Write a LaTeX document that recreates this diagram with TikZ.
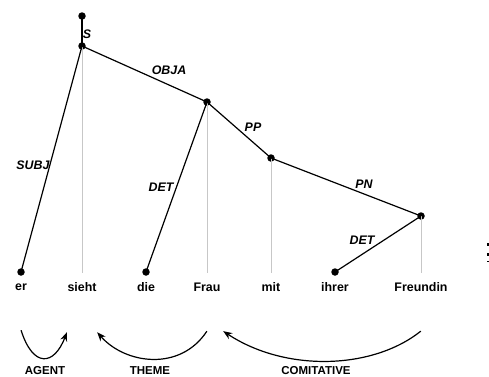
\documentclass[tikz,border=0pt]{standalone}
\usepackage{fontspec}
\setmainfont{Liberation Sans}
\usetikzlibrary{arrows.meta}
\begin{document}
\begin{tikzpicture}[x=1pt,y=-1pt,
  word/.style={font=\fontsize{12.4}{14}\selectfont\bfseries, inner sep=0pt},
  lbl/.style={font=\fontsize{12.4}{14}\selectfont\bfseries\itshape, inner sep=0pt},
  role/.style={font=\fontsize{11.5}{13}\selectfont\bfseries, inner sep=0pt},
  dot/.style={circle, fill=black, inner sep=0pt, minimum size=7.5pt},
  pt/.style={inner sep=0pt, minimum size=0pt},
  dep/.style={line width=1.2pt},
  proj/.style={line width=1pt, draw=black!22},
  rel/.style={line width=1.2pt, -{Stealth[length=9pt,width=7pt]}}]
\useasboundingbox (0,0) rectangle (489,376);

% tree nodes
\node[dot] (root) at (82,16) {};
\node[dot] (sieht) at (82,46) {};
\node[dot] (frau) at (207,102) {};
\node[dot] (mit) at (271,158) {};
\node[dot] (freundin) at (421,216) {};
\node[dot] (er) at (21,272) {};
\node[dot] (die) at (146,272) {};
\node[dot] (ihrer) at (335,272) {};

% feet of the projection lines
\node[pt] (fsieht) at (82,273) {};
\node[pt] (ffrau) at (207,273) {};
\node[pt] (fmit) at (271,273) {};
\node[pt] (ffreundin) at (421,273) {};

% projection lines
\draw[proj] (sieht.center) -- (fsieht);
\draw[proj] (frau.center) -- (ffrau);
\draw[proj] (mit.center) -- (fmit);
\draw[proj] (freundin.center) -- (ffreundin);

% dependency edges
\draw[dep] (root.center) -- (sieht.center);
\draw[dep] (sieht.center) -- (er.center);
\draw[dep] (sieht.center) -- (frau.center);
\draw[dep] (frau.center) -- (die.center);
\draw[dep] (frau.center) -- (mit.center);
\draw[dep] (mit.center) -- (freundin.center);
\draw[dep] (freundin.center) -- (ihrer.center);

% edge labels
\node[lbl] (lS) at (87,34) {S};
\node[lbl] (lSUBJ) at (33,165) {SUBJ};
\node[lbl] (lOBJA) at (169,70) {OBJA};
\node[lbl] (lDET1) at (161,187) {DET};
\node[lbl] (lPP) at (253,127) {PP};
\node[lbl] (lPN) at (364,184) {PN};
\node[lbl] (lDET2) at (362,240) {DET};

% words
\node[word] (w1) at (21,287) {er};
\node[word] (w2) at (82,287) {sieht};
\node[word] (w3) at (146,287) {die};
\node[word] (w4) at (207,287) {Frau};
\node[word] (w5) at (271,287) {mit};
\node[word] (w6) at (335,287) {ihrer};
\node[word] (w7) at (421,287) {Freundin};

% semantic role arcs
\node[pt] (a1) at (21,330) {};
\node[pt] (a2) at (67,332) {};
\node[pt] (t1) at (207,331) {};
\node[pt] (t2) at (97,332) {};
\node[pt] (c1) at (421,331) {};
\node[pt] (c2) at (223,331) {};
\draw[rel] (a1) .. controls (33,368) and (54,366) .. (a2);
\draw[rel] (t1) .. controls (180,372) and (125,364) .. (t2);
\draw[rel] (c1) .. controls (372,370) and (285,372) .. (c2);

\node[role] (rA) at (45,371) {AGENT};
\node[role] (rT) at (150,371) {THEME};
\node[role] (rC) at (316,371) {COMITATIVE};

% clipped marks at the right edge
\fill (487,242.5) rectangle (489,245.5);
\fill (487,252.5) rectangle (489,255.5);
\fill (487,261) rectangle (489,262.2);
\end{tikzpicture}
\end{document}
